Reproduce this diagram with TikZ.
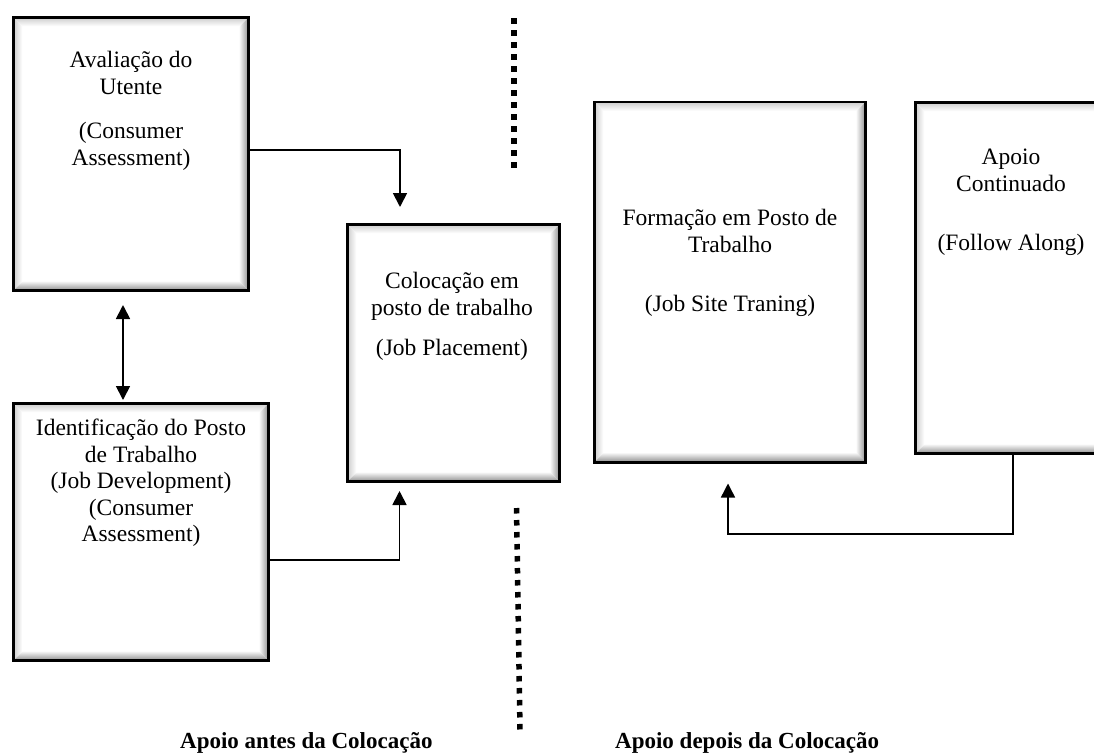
\documentclass[tikz,border=0pt]{standalone}
\usepackage{fontspec}
\setmainfont{Liberation Serif}
\usetikzlibrary{arrows.meta,calc}
\tikzset{
  bevelbox/.style={rectangle, draw=black, line width=2.6pt, fill=white, inner sep=0pt,
    path picture={
      \coordinate (pne) at (path picture bounding box.north east);
      \coordinate (pnw) at (path picture bounding box.north west);
      \coordinate (pse) at (path picture bounding box.south east);
      \coordinate (psw) at (path picture bounding box.south west);
      \shade[top color=gray!40, bottom color=white] (pnw) -- (pne) -- ([xshift=-9pt,yshift=-9pt]pne) -- ([xshift=9pt,yshift=-9pt]pnw) -- cycle;
      \shade[left color=gray!40, right color=white] (pnw) -- ([xshift=9pt,yshift=-9pt]pnw) -- ([xshift=9pt,yshift=9pt]psw) -- (psw) -- cycle;
      \shade[left color=white, right color=gray!90] ([xshift=-10pt,yshift=-10pt]pne) -- (pne) -- (pse) -- ([xshift=-10pt,yshift=10pt]pse) -- cycle;
      \shade[top color=white, bottom color=gray!90] ([xshift=10pt,yshift=10pt]psw) -- ([xshift=-10pt,yshift=10pt]pse) -- (pse) -- (psw) -- cycle;
    }},
  boxtext/.style={anchor=north, align=center, inner sep=0pt, font=\fontsize{23.5}{26.5}\selectfont},
  conn/.style={line width=1.8pt},
  arr/.style={conn, -{Triangle[length=14pt,width=14pt]}},
  dblarr/.style={conn, {Triangle[length=14pt,width=14pt]}-{Triangle[length=14pt,width=14pt]}},
  dots/.style={line width=5.5pt, dash pattern=on 5.5pt off 6.5pt},
  caption/.style={anchor=base west, inner sep=0pt, font=\fontsize{23}{27}\selectfont\bfseries}
}
\begin{document}
\begin{tikzpicture}[x=1pt,y=-1pt]
\useasboundingbox (0,0) rectangle (1094,753);
% boxes
\node[bevelbox, minimum width=235.4pt, minimum height=273.4pt] (box1) at (131,154) {};
\node[bevelbox, minimum width=255.4pt, minimum height=257.4pt] (box2) at (141,532) {};
\node[bevelbox, minimum width=212.4pt, minimum height=257.4pt] (box3) at (453.5,353) {};
\node[bevelbox, minimum width=271.4pt, minimum height=360.4pt] (box4) at (730,282) {};
\node[bevelbox, minimum width=195.4pt, minimum height=351.4pt] (box5) at (1013,278) {};
% texts
\node[boxtext] (t1) at (131,51) {Avaliação do\\Utente\\[18pt](Consumer\\Assessment)};
\node[boxtext] (t2) at (141,419) {Identificação do Posto\\de Trabalho\\(Job Development)\\(Consumer\\Assessment)};
\node[boxtext] (t3) at (452,272) {Colocação em\\posto de trabalho\\[14pt](Job Placement)};
\node[boxtext] (t4) at (730,209) {Formação em Posto de\\Trabalho\\[33pt](Job Site Traning)};
\node[boxtext] (t5) at (1011,149) {Apoio\\Continuado\\[33pt](Follow Along)};
% connectors
\draw[dblarr] ([xshift=-8pt,yshift=-13pt]box1.south) -- ([xshift=-18pt,yshift=2pt]box2.north);
\draw[arr] ([yshift=4pt]box1.east) -| ([xshift=-53.5pt,yshift=16pt]box3.north);
\draw[arr] ([yshift=-28pt]box2.east) -| ([xshift=-54pt,yshift=-8pt]box3.south);
\draw[arr, line width=1.5pt] (box5.south) -- ++(0,79) -| ([xshift=-2pt,yshift=-20pt]box4.south);
% dotted separators
\coordinate (d1a) at (514,18);
\coordinate (d1b) at (514,169);
\coordinate (d2a) at (516.5,508);
\coordinate (d2b) at (520,730);
\draw[dots] (d1a) -- (d1b);
\draw[dots] (d2a) -- (d2b);
% captions
\node[caption] (c1) at (180,748) {Apoio antes da Colocação};
\node[caption] (c2) at (615,748) {Apoio depois da Colocação};
\end{tikzpicture}
\end{document}
